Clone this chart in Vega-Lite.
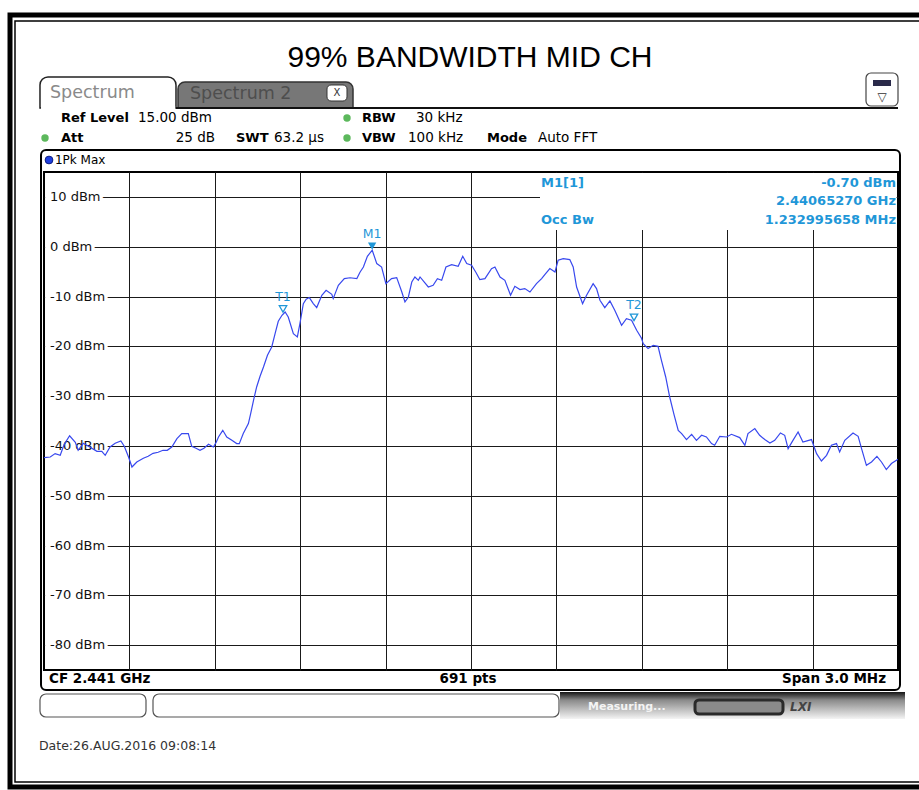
{
 "$schema": "https://vega.github.io/schema/vega-lite/v6.json",
 "width": 854,
 "height": 498,
 "autosize": {"type": "none"},
 "padding": {"left": 44, "top": 172, "right": 21, "bottom": 120},
 "background": "white",
 "config": {
  "view": {"stroke": "#000", "strokeWidth": 2},
  "font": "DejaVu Sans",
  "axisX": {"labels": false, "ticks": false, "domain": false, "gridColor": "#1a1a1a", "gridWidth": 1, "gridOpacity": 1},
  "axisY": {"labels": false, "ticks": false, "domain": false, "gridColor": "#1a1a1a", "gridWidth": 1, "gridOpacity": 1}
 },
 "datasets": {
  "trace": [
   {"freq":2439.500,"level":-42.35},{"freq":2439.522,"level":-42.23},{"freq":2439.539,"level":-41.55},{"freq":2439.557,"level":-41.89},{"freq":2439.571,"level":-39.68},{"freq":2439.590,"level":-37.97},{"freq":2439.610,"level":-39.28},{"freq":2439.620,"level":-40.88},{"freq":2439.638,"level":-39.48},{"freq":2439.662,"level":-40.28},{"freq":2439.686,"level":-41.08},{"freq":2439.703,"level":-41.08},{"freq":2439.715,"level":-41.89},{"freq":2439.732,"level":-40.22},{"freq":2439.750,"level":-39.48},{"freq":2439.770,"level":-39.02},{"freq":2439.782,"level":-40.08},{"freq":2439.797,"level":-42.23},{"freq":2439.809,"level":-44.24},{"freq":2439.826,"level":-43.23},{"freq":2439.849,"level":-42.49},{"freq":2439.866,"level":-42.09},{"freq":2439.883,"level":-41.49},{"freq":2439.901,"level":-41.28},{"freq":2439.918,"level":-40.88},{"freq":2439.933,"level":-40.88},{"freq":2439.949,"level":-40.22},{"freq":2439.967,"level":-38.53},{"freq":2439.984,"level":-37.53},{"freq":2440.007,"level":-37.53},{"freq":2440.019,"level":-40.08},{"freq":2440.034,"level":-40.48},{"freq":2440.048,"level":-40.88},{"freq":2440.062,"level":-40.48},{"freq":2440.078,"level":-39.68},{"freq":2440.095,"level":-40.22},{"freq":2440.105,"level":-39.28},{"freq":2440.113,"level":-38.21},{"freq":2440.128,"level":-36.87},{"freq":2440.142,"level":-38.21},{"freq":2440.160,"level":-38.88},{"freq":2440.177,"level":-39.54},{"freq":2440.186,"level":-39.54},{"freq":2440.200,"level":-37.53},{"freq":2440.218,"level":-35.52},{"freq":2440.226,"level":-33.51},{"freq":2440.236,"level":-30.84},{"freq":2440.247,"level":-28.17},{"freq":2440.259,"level":-26.02},{"freq":2440.271,"level":-24.16},{"freq":2440.285,"level":-21.81},{"freq":2440.300,"level":-20.14},{"freq":2440.312,"level":-17.39},{"freq":2440.323,"level":-14.98},{"freq":2440.336,"level":-13.77},{"freq":2440.347,"level":-13.11},{"freq":2440.358,"level":-14.12},{"freq":2440.376,"level":-17.45},{"freq":2440.390,"level":-18.13},{"freq":2440.399,"level":-15.44},{"freq":2440.411,"level":-11.43},{"freq":2440.421,"level":-10.56},{"freq":2440.432,"level":-10.22},{"freq":2440.446,"level":-11.43},{"freq":2440.458,"level":-12.23},{"freq":2440.476,"level":-9.76},{"freq":2440.491,"level":-8.76},{"freq":2440.511,"level":-9.56},{"freq":2440.516,"level":-10.42},{"freq":2440.534,"level":-7.75},{"freq":2440.555,"level":-6.41},{"freq":2440.575,"level":-6.24},{"freq":2440.599,"level":-6.41},{"freq":2440.610,"level":-5.14},{"freq":2440.622,"level":-4.08},{"freq":2440.636,"level":-1.93},{"freq":2440.653,"level":-0.70},{"freq":2440.669,"level":-3.39},{"freq":2440.686,"level":-4.08},{"freq":2440.701,"level":-7.41},{"freq":2440.721,"level":-6.41},{"freq":2440.739,"level":-6.20},{"freq":2440.757,"level":-9.10},{"freq":2440.768,"level":-11.10},{"freq":2440.780,"level":-10.10},{"freq":2440.792,"level":-7.09},{"freq":2440.803,"level":-6.08},{"freq":2440.815,"level":-6.75},{"freq":2440.821,"level":-6.08},{"freq":2440.850,"level":-8.09},{"freq":2440.867,"level":-7.75},{"freq":2440.882,"level":-6.41},{"freq":2440.897,"level":-6.75},{"freq":2440.912,"level":-4.08},{"freq":2440.932,"level":-3.59},{"freq":2440.955,"level":-3.94},{"freq":2440.971,"level":-1.93},{"freq":2440.985,"level":-3.39},{"freq":2441.002,"level":-3.73},{"freq":2441.017,"level":-5.14},{"freq":2441.031,"level":-6.61},{"freq":2441.049,"level":-6.41},{"freq":2441.072,"level":-4.40},{"freq":2441.084,"level":-4.08},{"freq":2441.102,"level":-6.08},{"freq":2441.119,"level":-6.75},{"freq":2441.139,"level":-9.76},{"freq":2441.154,"level":-7.95},{"freq":2441.172,"level":-8.61},{"freq":2441.189,"level":-8.41},{"freq":2441.207,"level":-9.10},{"freq":2441.230,"level":-7.41},{"freq":2441.248,"level":-6.41},{"freq":2441.260,"level":-5.54},{"freq":2441.277,"level":-4.40},{"freq":2441.295,"level":-5.08},{"freq":2441.306,"level":-2.73},{"freq":2441.324,"level":-2.39},{"freq":2441.347,"level":-2.59},{"freq":2441.359,"level":-4.08},{"freq":2441.371,"level":-8.09},{"freq":2441.392,"level":-11.43},{"freq":2441.406,"level":-9.76},{"freq":2441.429,"level":-7.41},{"freq":2441.441,"level":-8.41},{"freq":2441.453,"level":-10.76},{"freq":2441.470,"level":-12.23},{"freq":2441.488,"level":-10.90},{"freq":2441.505,"level":-12.77},{"freq":2441.529,"level":-15.78},{"freq":2441.546,"level":-14.44},{"freq":2441.564,"level":-14.78},{"freq":2441.582,"level":-16.79},{"freq":2441.599,"level":-18.39},{"freq":2441.605,"level":-19.46},{"freq":2441.622,"level":-20.46},{"freq":2441.640,"level":-19.80},{"freq":2441.657,"level":-20.00},{"freq":2441.669,"level":-22.81},{"freq":2441.684,"level":-26.16},{"freq":2441.698,"level":-30.18},{"freq":2441.713,"level":-33.65},{"freq":2441.728,"level":-36.87},{"freq":2441.740,"level":-37.53},{"freq":2441.757,"level":-38.73},{"freq":2441.775,"level":-37.67},{"freq":2441.792,"level":-38.88},{"freq":2441.810,"level":-37.87},{"freq":2441.827,"level":-38.21},{"freq":2441.845,"level":-39.54},{"freq":2441.856,"level":-39.88},{"freq":2441.874,"level":-38.07},{"freq":2441.898,"level":-38.21},{"freq":2441.915,"level":-37.67},{"freq":2441.944,"level":-38.33},{"freq":2441.962,"level":-39.88},{"freq":2441.973,"level":-37.53},{"freq":2441.997,"level":-36.53},{"freq":2442.014,"level":-37.87},{"freq":2442.032,"level":-38.73},{"freq":2442.050,"level":-39.42},{"freq":2442.067,"level":-38.88},{"freq":2442.087,"level":-37.41},{"freq":2442.102,"level":-37.87},{"freq":2442.114,"level":-40.54},{"freq":2442.131,"level":-38.88},{"freq":2442.149,"level":-37.21},{"freq":2442.166,"level":-39.22},{"freq":2442.196,"level":-38.73},{"freq":2442.214,"level":-41.55},{"freq":2442.231,"level":-43.03},{"freq":2442.249,"level":-41.89},{"freq":2442.266,"level":-39.88},{"freq":2442.284,"level":-39.54},{"freq":2442.295,"level":-41.22},{"freq":2442.313,"level":-38.88},{"freq":2442.342,"level":-37.41},{"freq":2442.360,"level":-38.07},{"freq":2442.372,"level":-40.54},{"freq":2442.389,"level":-43.90},{"freq":2442.407,"level":-43.23},{"freq":2442.426,"level":-42.09},{"freq":2442.442,"level":-43.23},{"freq":2442.459,"level":-44.76},{"freq":2442.477,"level":-43.55},{"freq":2442.500,"level":-42.69}
  ],
  "ylabels": [
   {"level":10,"label":"10 dBm"},{"level":0,"label":"0 dBm"},{"level":-10,"label":"-10 dBm"},{"level":-20,"label":"-20 dBm"},{"level":-30,"label":"-30 dBm"},{"level":-40,"label":"-40 dBm"},{"level":-50,"label":"-50 dBm"},{"level":-60,"label":"-60 dBm"},{"level":-70,"label":"-70 dBm"},{"level":-80,"label":"-80 dBm"}
  ],
  "markers": [
   {"name":"M1","freq":2440.6527,"level":-0.70,"kind":"M"},
   {"name":"T1","freq":2440.3396,"level":-13.3,"kind":"T"},
   {"name":"T2","freq":2441.5726,"level":-15.0,"kind":"T"}
  ]
 },
 "data": {"values": [{}]},
 "layer": [
  {
   "data": {"name": "trace"},
   "mark": {"type": "line", "opacity": 0},
   "encoding": {
    "x": {"field": "freq", "type": "quantitative", "title": null, "scale": {"domain": [2439.5, 2442.5], "nice": false, "zero": false},
          "axis": {"grid": true, "values": [2439.8, 2440.1, 2440.4, 2440.7, 2441.0, 2441.3, 2441.6, 2441.9, 2442.2]}},
    "y": {"field": "level", "type": "quantitative", "title": null, "scale": {"domain": [-85, 15], "nice": false, "zero": false},
          "axis": {"grid": true, "values": [10, 0, -10, -20, -30, -40, -50, -60, -70, -80]}}
   }
  },
  {
   "mark": {"type": "rect", "fill": null, "stroke": "#000", "strokeWidth": 5},
   "encoding": {"x": {"datum": 2439.3806}, "x2": {"datum": 2442.5948}, "y": {"datum": 46.53}, "y2": {"datum": -108.49}}
  },
  {
   "mark": {"type": "rect", "fill": null, "stroke": "#000", "strokeWidth": 1.5},
   "encoding": {"x": {"datum": 2439.3981}, "x2": {"datum": 2442.5948}, "y": {"datum": 45.32}, "y2": {"datum": -107.49}}
  },
  {
   "mark": {"type": "text", "text": "99% BANDWIDTH MID CH", "font": "Liberation Sans", "fontSize": 30, "align": "center", "baseline": "alphabetic", "color": "#000"},
   "encoding": {"x": {"datum": 2440.9965}, "y": {"datum": 36.08}}
  },
  {
   "mark": {"type": "rect", "fill": "#777777", "stroke": "#333", "strokeWidth": 1.5, "cornerRadiusTopLeft": 7, "cornerRadiusTopRight": 7},
   "encoding": {"x": {"datum": 2439.9707}, "x2": {"datum": 2440.5855}, "y": {"datum": 33.07}, "y2": {"datum": 27.85}}
  },
  {
   "mark": {"type": "rect", "fill": "white", "stroke": "#222", "strokeWidth": 1.5, "cornerRadiusTopLeft": 8, "cornerRadiusTopRight": 8},
   "encoding": {"x": {"datum": 2439.4859}, "x2": {"datum": 2439.9637}, "y": {"datum": 34.08}, "y2": {"datum": 27.85}}
  },
  {
   "mark": {"type": "rule", "stroke": "#111", "strokeWidth": 2},
   "encoding": {"x": {"datum": 2439.9637}, "x2": {"datum": 2442.5}, "y": {"datum": 27.85}}
  },
  {
   "mark": {"type": "rule", "stroke": "white", "strokeWidth": 3},
   "encoding": {"x": {"datum": 2439.4895}, "x2": {"datum": 2439.9610}, "y": {"datum": 27.85}}
  },
  {
   "mark": {"type": "text", "text": "Spectrum", "fontSize": 17.5, "align": "left", "baseline": "middle", "color": "#8a8a8a"},
   "encoding": {"x": {"datum": 2439.5211}, "y": {"datum": 30.86}}
  },
  {
   "mark": {"type": "text", "text": "Spectrum 2", "fontSize": 17.5, "align": "left", "baseline": "middle", "color": "#4e4e4e"},
   "encoding": {"x": {"datum": 2440.0129}, "y": {"datum": 30.66}}
  },
  {
   "mark": {"type": "rect", "fill": "white", "stroke": "#333", "strokeWidth": 1, "cornerRadius": 4},
   "encoding": {"x": {"datum": 2440.4941}, "x2": {"datum": 2440.5644}, "y": {"datum": 32.47}, "y2": {"datum": 29.26}}
  },
  {
   "mark": {"type": "text", "text": "X", "fontSize": 10, "align": "center", "baseline": "middle", "color": "#333"},
   "encoding": {"x": {"datum": 2440.5293}, "y": {"datum": 30.86}}
  },
  {
   "mark": {"type": "rect", "fill": "white", "stroke": "#444", "strokeWidth": 1.2, "cornerRadius": 5},
   "encoding": {"x": {"datum": 2442.3876}, "x2": {"datum": 2442.5}, "y": {"datum": 34.88}, "y2": {"datum": 28.25}}
  },
  {
   "mark": {"type": "rect", "fill": "#2a2a4a"},
   "encoding": {"x": {"datum": 2442.4122}, "x2": {"datum": 2442.4754}, "y": {"datum": 33.47}, "y2": {"datum": 32.27}}
  },
  {
   "mark": {"type": "text", "text": "▽", "fontSize": 12, "align": "center", "baseline": "middle", "color": "#333"},
   "encoding": {"x": {"datum": 2442.4438}, "y": {"datum": 30.06}}
  },
  {
   "mark": {"type": "text", "text": "Ref Level", "fontSize": 13, "fontWeight": "bold", "align": "left", "baseline": "middle", "color": "#000"},
   "encoding": {"x": {"datum": 2439.5597}, "y": {"datum": 25.84}}
  },
  {
   "mark": {"type": "text", "text": "15.00 dBm", "fontSize": 13.5, "align": "left", "baseline": "middle", "color": "#000"},
   "encoding": {"x": {"datum": 2439.8302}, "y": {"datum": 25.84}}
  },
  {
   "mark": {"type": "text", "text": "Att", "fontSize": 13, "fontWeight": "bold", "align": "left", "baseline": "middle", "color": "#000"},
   "encoding": {"x": {"datum": 2439.5597}, "y": {"datum": 21.83}}
  },
  {
   "mark": {"type": "text", "text": "25 dB", "fontSize": 13.5, "align": "right", "baseline": "middle", "color": "#000"},
   "encoding": {"x": {"datum": 2440.1007}, "y": {"datum": 21.83}}
  },
  {
   "mark": {"type": "text", "text": "SWT", "fontSize": 13, "fontWeight": "bold", "align": "left", "baseline": "middle", "color": "#000"},
   "encoding": {"x": {"datum": 2440.1745}, "y": {"datum": 21.83}}
  },
  {
   "mark": {"type": "text", "text": "63.2 µs", "fontSize": 13.5, "align": "left", "baseline": "middle", "color": "#000"},
   "encoding": {"x": {"datum": 2440.3079}, "y": {"datum": 21.83}}
  },
  {
   "mark": {"type": "text", "text": "RBW", "fontSize": 13, "fontWeight": "bold", "align": "left", "baseline": "middle", "color": "#000"},
   "encoding": {"x": {"datum": 2440.6171}, "y": {"datum": 25.84}}
  },
  {
   "mark": {"type": "text", "text": "30 kHz", "fontSize": 13.5, "align": "left", "baseline": "middle", "color": "#000"},
   "encoding": {"x": {"datum": 2440.8068}, "y": {"datum": 25.84}}
  },
  {
   "mark": {"type": "text", "text": "VBW", "fontSize": 13, "fontWeight": "bold", "align": "left", "baseline": "middle", "color": "#000"},
   "encoding": {"x": {"datum": 2440.6171}, "y": {"datum": 21.83}}
  },
  {
   "mark": {"type": "text", "text": "100 kHz", "fontSize": 13.5, "align": "left", "baseline": "middle", "color": "#000"},
   "encoding": {"x": {"datum": 2440.7787}, "y": {"datum": 21.83}}
  },
  {
   "mark": {"type": "text", "text": "Mode", "fontSize": 13, "fontWeight": "bold", "align": "left", "baseline": "middle", "color": "#000"},
   "encoding": {"x": {"datum": 2441.0562}, "y": {"datum": 21.83}}
  },
  {
   "mark": {"type": "text", "text": "Auto FFT", "fontSize": 13.5, "align": "left", "baseline": "middle", "color": "#000"},
   "encoding": {"x": {"datum": 2441.2353}, "y": {"datum": 21.83}}
  },
  {
   "mark": {"type": "point", "shape": "circle", "filled": true, "size": 55, "color": "#5cb85c", "opacity": 1},
   "encoding": {"x": {"datum": 2440.5644}, "y": {"datum": 25.84}}
  },
  {
   "mark": {"type": "point", "shape": "circle", "filled": true, "size": 55, "color": "#5cb85c", "opacity": 1},
   "encoding": {"x": {"datum": 2440.5644}, "y": {"datum": 21.83}}
  },
  {
   "mark": {"type": "point", "shape": "circle", "filled": true, "size": 55, "color": "#5cb85c", "opacity": 1},
   "encoding": {"x": {"datum": 2439.5035}, "y": {"datum": 21.83}}
  },
  {
   "mark": {"type": "rect", "fill": null, "stroke": "#000", "strokeWidth": 2, "cornerRadius": 5},
   "encoding": {"x": {"datum": 2439.4895}, "x2": {"datum": 2442.5070}, "y": {"datum": 19.42}, "y2": {"datum": -89.02}}
  },
  {
   "mark": {"type": "point", "shape": "circle", "filled": true, "size": 60, "color": "#1f3fe0", "stroke": "#0a1a80", "strokeWidth": 1, "opacity": 1},
   "encoding": {"x": {"datum": 2439.5176}, "y": {"datum": 17.41}}
  },
  {
   "mark": {"type": "text", "text": "1Pk Max", "fontSize": 12, "align": "left", "baseline": "middle", "color": "#000"},
   "encoding": {"x": {"datum": 2439.5386}, "y": {"datum": 17.41}}
  },
  {
   "mark": {"type": "rect", "fill": "white"},
   "encoding": {"x": {"datum": 2441.2424}, "x2": {"datum": 2442.495}, "y": {"datum": 14.8}, "y2": {"datum": 3.35}}
  },
  {
   "mark": {"type": "rect", "fill": "white"},
   "encoding": {"x": {"datum": 2439.5040}, "x2": {"datum": 2439.5211}, "y": {"datum": 14.8}, "y2": {"datum": -84.8}}
  },
  {
   "data": {"name": "ylabels"},
   "mark": {"type": "text", "fontSize": 13, "align": "left", "baseline": "middle", "dx": 6, "color": "white", "stroke": "white", "strokeWidth": 7, "strokeJoin": "round"},
   "encoding": {"x": {"datum": 2439.5}, "y": {"field": "level", "type": "quantitative"}, "text": {"field": "label"}}
  },
  {
   "data": {"name": "ylabels"},
   "mark": {"type": "text", "fontSize": 13, "align": "left", "baseline": "middle", "dx": 6, "color": "#111"},
   "encoding": {"x": {"datum": 2439.5}, "y": {"field": "level", "type": "quantitative"}, "text": {"field": "label"}}
  },
  {
   "data": {"name": "trace"},
   "mark": {"type": "line", "color": "#3848ee", "strokeWidth": 1.2, "clip": true},
   "encoding": {
    "x": {"field": "freq", "type": "quantitative"},
    "y": {"field": "level", "type": "quantitative"}
   }
  },
  {
   "data": {"name": "markers"},
   "transform": [{"filter": "datum.kind === 'M'"}],
   "mark": {"type": "point", "shape": "triangle-down", "filled": true, "size": 70, "color": "#1f97d8", "opacity": 1, "yOffset": -4},
   "encoding": {"x": {"field": "freq", "type": "quantitative"}, "y": {"field": "level", "type": "quantitative"}}
  },
  {
   "data": {"name": "markers"},
   "transform": [{"filter": "datum.kind === 'T'"}],
   "mark": {"type": "point", "shape": "triangle-down", "filled": false, "size": 55, "color": "#1f97d8", "strokeWidth": 1.3, "opacity": 1, "yOffset": -4},
   "encoding": {"x": {"field": "freq", "type": "quantitative"}, "y": {"field": "level", "type": "quantitative"}}
  },
  {
   "data": {"name": "markers"},
   "mark": {"type": "text", "fontSize": 12.5, "align": "center", "baseline": "middle", "dy": -16, "color": "#1f97d8"},
   "encoding": {"x": {"field": "freq", "type": "quantitative"}, "y": {"field": "level", "type": "quantitative"}, "text": {"field": "name"}}
  },
  {
   "mark": {"type": "text", "text": "M1[1]", "fontSize": 13, "fontWeight": "bold", "align": "left", "baseline": "middle", "color": "#1f97d8"},
   "encoding": {"x": {"datum": 2441.2459}, "y": {"datum": 12.79}}
  },
  {
   "mark": {"type": "text", "text": "-0.70 dBm", "fontSize": 13, "fontWeight": "bold", "align": "right", "baseline": "middle", "color": "#1f97d8"},
   "encoding": {"x": {"datum": 2442.4929}, "y": {"datum": 12.79}}
  },
  {
   "mark": {"type": "text", "text": "2.44065270 GHz", "fontSize": 13, "fontWeight": "bold", "align": "right", "baseline": "middle", "color": "#1f97d8"},
   "encoding": {"x": {"datum": 2442.4929}, "y": {"datum": 9.18}}
  },
  {
   "mark": {"type": "text", "text": "Occ Bw", "fontSize": 13, "fontWeight": "bold", "align": "left", "baseline": "middle", "color": "#1f97d8"},
   "encoding": {"x": {"datum": 2441.2459}, "y": {"datum": 5.36}}
  },
  {
   "mark": {"type": "text", "text": "1.232995658 MHz", "fontSize": 13, "fontWeight": "bold", "align": "right", "baseline": "middle", "color": "#1f97d8"},
   "encoding": {"x": {"datum": 2442.4929}, "y": {"datum": 5.36}}
  },
  {
   "mark": {"type": "text", "text": "CF 2.441 GHz", "fontSize": 13.5, "fontWeight": "bold", "align": "left", "baseline": "middle", "color": "#000"},
   "encoding": {"x": {"datum": 2439.5176}, "y": {"datum": -86.81}}
  },
  {
   "mark": {"type": "text", "text": "691 pts", "fontSize": 13.5, "fontWeight": "bold", "align": "center", "baseline": "middle", "color": "#000"},
   "encoding": {"x": {"datum": 2440.9895}, "y": {"datum": -86.81}}
  },
  {
   "mark": {"type": "text", "text": "Span 3.0 MHz", "fontSize": 13.5, "fontWeight": "bold", "align": "right", "baseline": "middle", "color": "#000"},
   "encoding": {"x": {"datum": 2442.4578}, "y": {"datum": -86.81}}
  },
  {
   "mark": {"type": "rect", "color": {"gradient": "linear", "x1": 0, "y1": 0, "x2": 0, "y2": 1, "stops": [{"offset": 0, "color": "#151515"}, {"offset": 0.3, "color": "#8a8a8a"}, {"offset": 1, "color": "#f4f4f4"}]}},
   "encoding": {"x": {"datum": 2441.3126}, "x2": {"datum": 2442.5246}, "y": {"datum": -89.42}, "y2": {"datum": -94.84}}
  },
  {
   "mark": {"type": "rect", "fill": "white", "stroke": "#555", "strokeWidth": 1.2, "cornerRadius": 6},
   "encoding": {"x": {"datum": 2439.4859}, "x2": {"datum": 2439.8583}, "y": {"datum": -89.82}, "y2": {"datum": -94.44}}
  },
  {
   "mark": {"type": "rect", "fill": "white", "stroke": "#555", "strokeWidth": 1.2, "cornerRadius": 6},
   "encoding": {"x": {"datum": 2439.8829}, "x2": {"datum": 2441.3091}, "y": {"datum": -89.82}, "y2": {"datum": -94.44}}
  },
  {
   "mark": {"type": "text", "text": "Measuring...", "fontSize": 11, "fontWeight": "bold", "align": "left", "baseline": "middle", "color": "#f4f4f4"},
   "encoding": {"x": {"datum": 2441.4110}, "y": {"datum": -92.43}}
  },
  {
   "mark": {"type": "rect", "fill": "#8a8a8a", "stroke": "#2a2a2a", "strokeWidth": 3, "cornerRadius": 4},
   "encoding": {"x": {"datum": 2441.7869}, "x2": {"datum": 2442.0960}, "y": {"datum": -91.02}, "y2": {"datum": -93.84}}
  },
  {
   "mark": {"type": "text", "text": "LXI", "fontSize": 12, "fontWeight": "bold", "fontStyle": "italic", "align": "left", "baseline": "middle", "color": "#444"},
   "encoding": {"x": {"datum": 2442.1206}, "y": {"datum": -92.43}}
  },
  {
   "mark": {"type": "text", "text": "Date:26.AUG.2016  09:08:14", "fontSize": 12.5, "align": "left", "baseline": "middle", "color": "#333"},
   "encoding": {"x": {"datum": 2439.4824}, "y": {"datum": -100.26}}
  }
 ]
}
